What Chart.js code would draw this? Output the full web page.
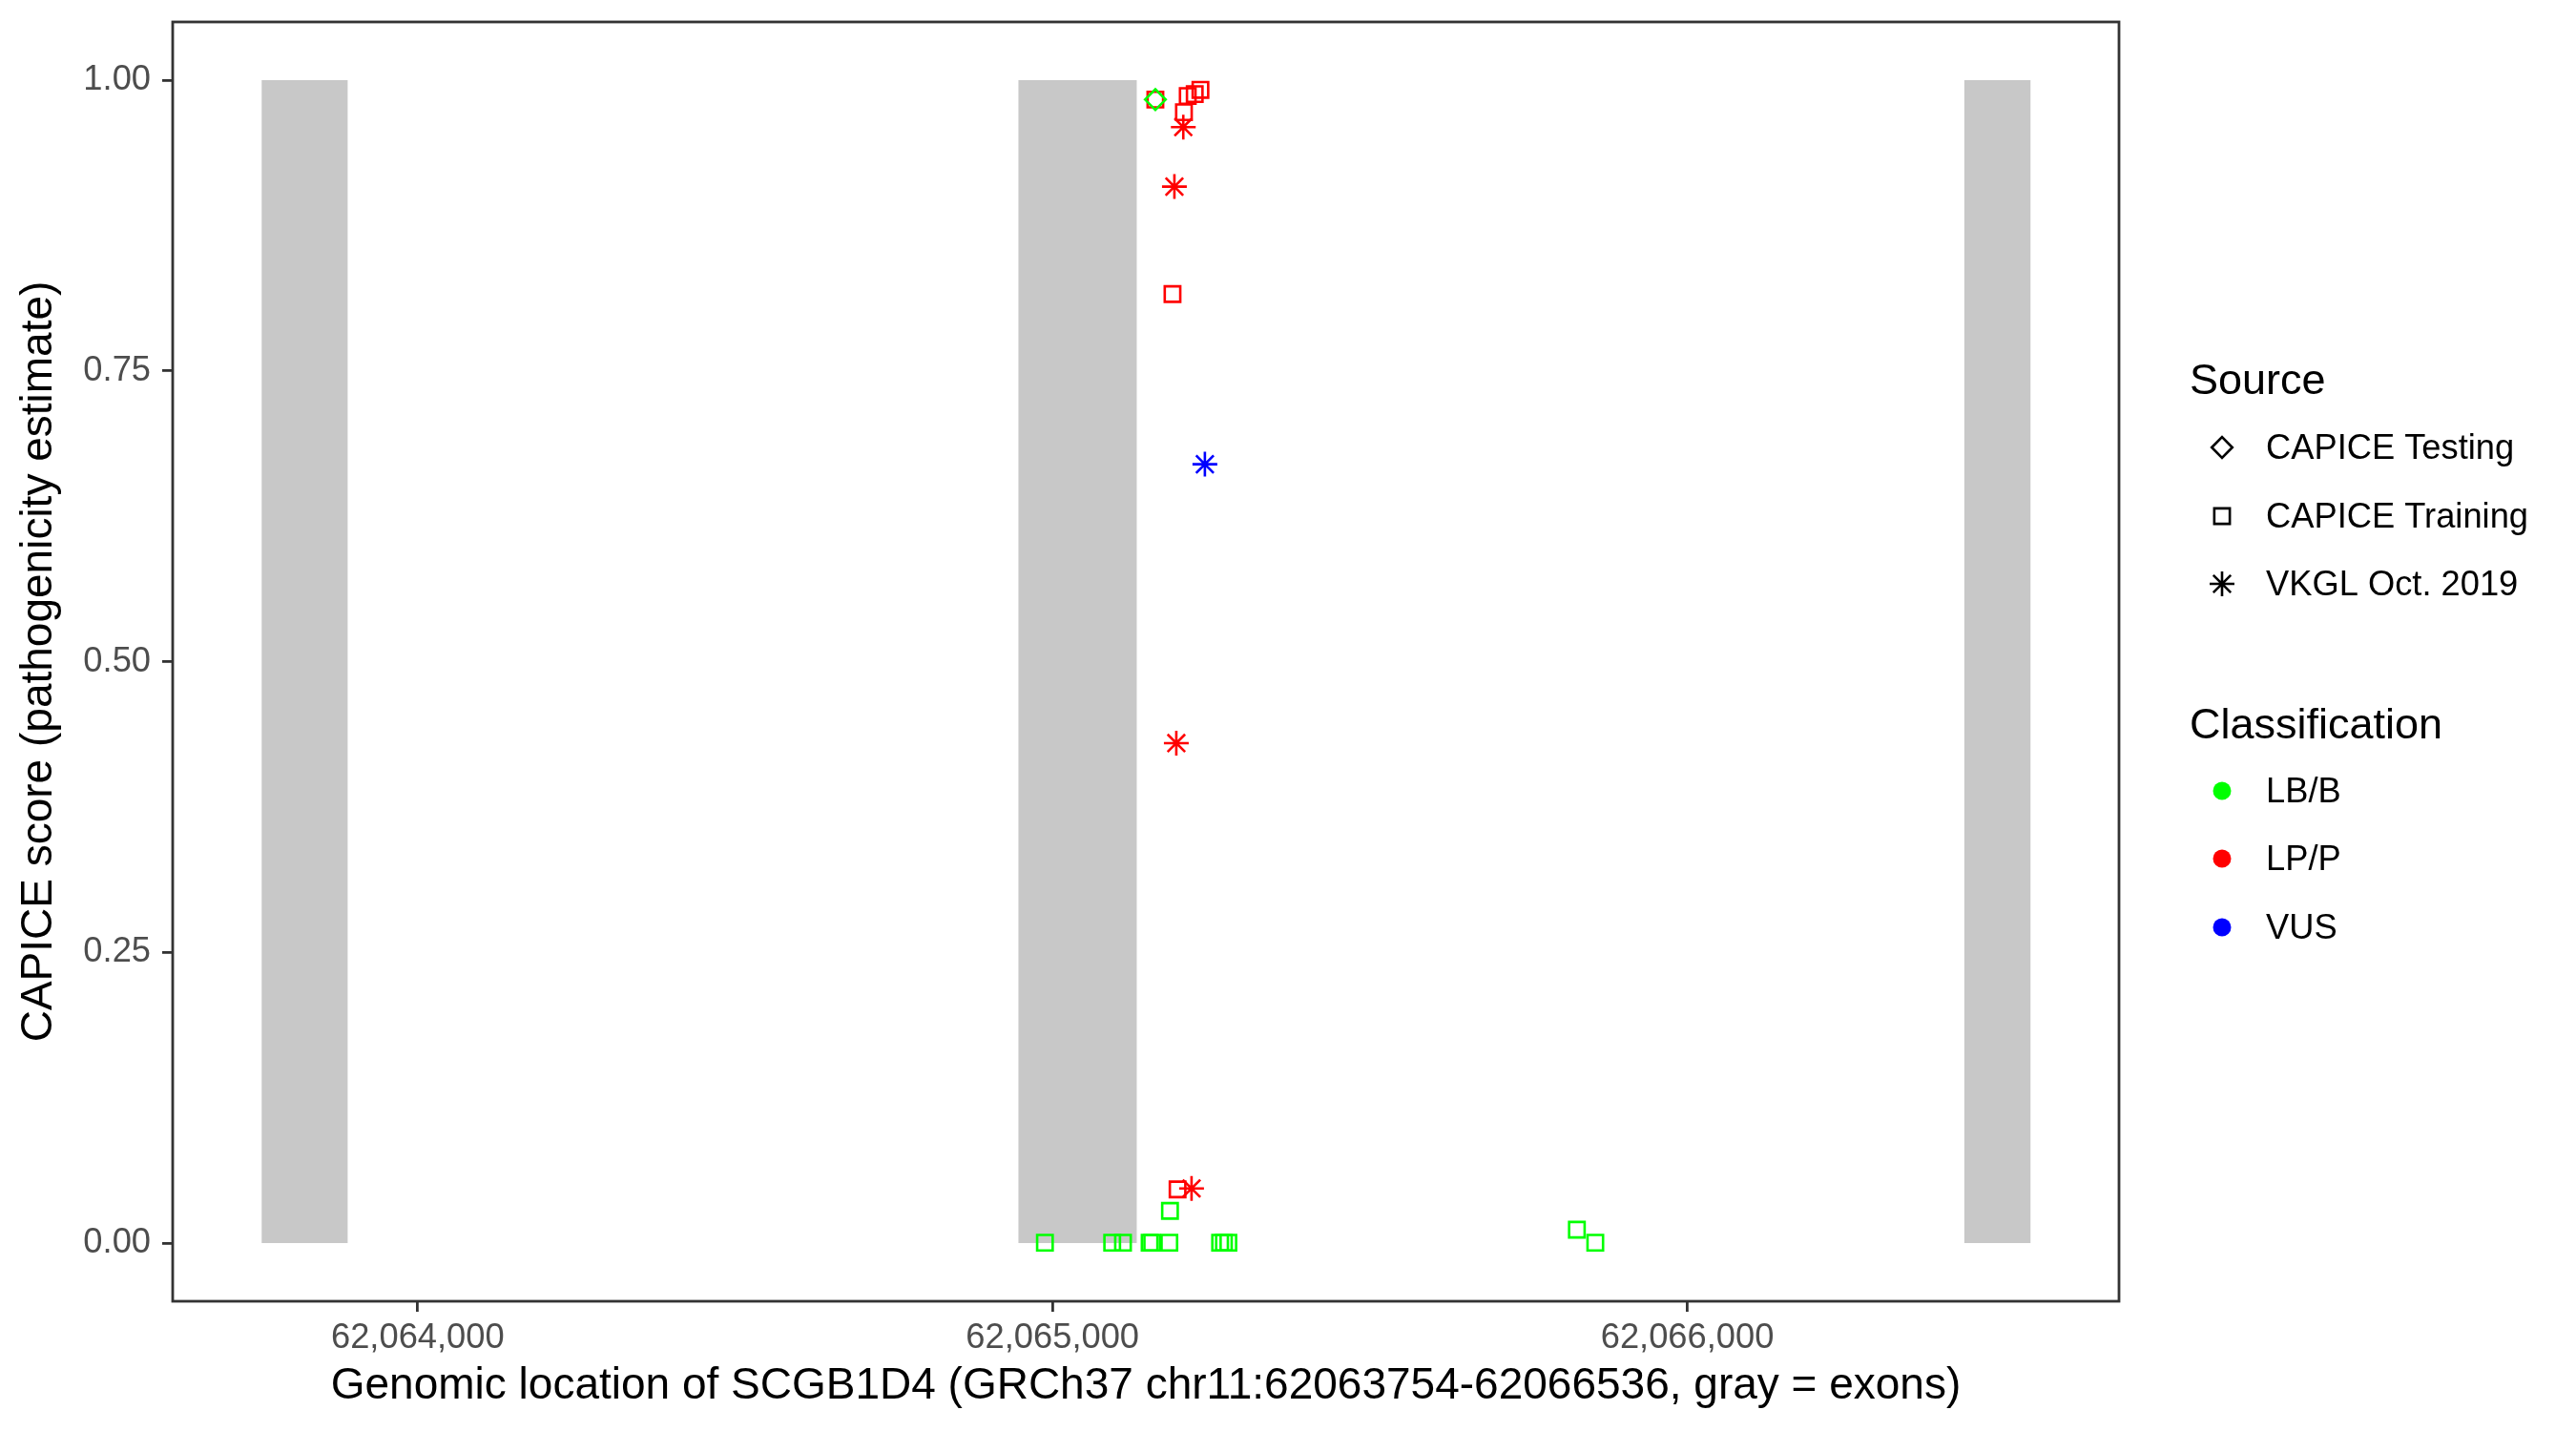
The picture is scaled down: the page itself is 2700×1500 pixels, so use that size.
<!DOCTYPE html>
<html><head><meta charset="utf-8">
<script src="https://cdn.jsdelivr.net/npm/chart.js@4.4.1/dist/chart.umd.min.js"></script>
<style>html,body{margin:0;padding:0;background:#fff;}canvas{display:block}</style>
</head><body>
<canvas id="c" width="2700" height="1500"></canvas>
<script>
// ---------- data ----------
const exonStart = [62063754, 62064946, 62066436];
const exonEnd   = [62063890, 62065133, 62066541];

const testingLBB_x = [62065162];
const testingLBB_y = [0.9833];

const trainingLPP_x = [62065162, 62065213, 62065224, 62065233, 62065207, 62065189, 62065197];
const trainingLPP_y = [0.9833, 0.9863, 0.9880, 0.9916, 0.9724, 0.8160, 0.0462];

const trainingLBB_x = [62064988, 62065094, 62065111, 62065153, 62065157, 62065184, 62065185, 62065264, 62065270, 62065277, 62065826, 62065855];
const trainingLBB_y = [0.0003, 0.0003, 0.0003, 0.0003, 0.0003, 0.0003, 0.0277, 0.0003, 0.0003, 0.0003, 0.0115, 0.0003];

const vkglLPP_x = [62065206, 62065192, 62065195, 62065219];
const vkglLPP_y = [0.9596, 0.9084, 0.4299, 0.0470];

const vkglVUS_x = [62065240];
const vkglVUS_y = [0.6697];

const xTickValues = [62064000, 62065000, 62066000];
const yTickValues = [0, 0.25, 0.5, 0.75, 1];

const sourceLabels = ['CAPICE Testing', 'CAPICE Training', 'VKGL Oct. 2019'];
const classLabels = ['LB/B', 'LP/P', 'VUS'];

const xTitle = 'Genomic location of SCGB1D4 (GRCh37 chr11:62063754-62066536, gray = exons)';
const yTitle = 'CAPICE score (pathogenicity estimate)';

// ---------- styles ----------
const FONT = "'Liberation Sans', Arial, Helvetica, sans-serif";
const GREEN = '#00FF00', RED = '#FF0000', BLUE = '#0000FF';
const EXON = '#C8C8C8';
const SQ_R = 11.5, DIA_R = 10.8, STAR_R = 13, PT_W = 2.6;

const pts = (xs, ys) => xs.map((x, i) => ({x: x, y: ys[i]}));

function pointDs(xs, ys, style, r, color) {
  return {
    type: 'scatter', data: pts(xs, ys), pointStyle: style, pointRadius: r, pointHoverRadius: r,
    borderColor: color, backgroundColor: 'rgba(0,0,0,0)', borderWidth: PT_W, pointBorderWidth: PT_W
  };
}

const datasets = [
  pointDs(testingLBB_x, testingLBB_y, 'rectRot', DIA_R, GREEN),
  pointDs(vkglVUS_x, vkglVUS_y, 'star', STAR_R, BLUE),
  pointDs(vkglLPP_x, vkglLPP_y, 'star', STAR_R, RED),
  pointDs(trainingLPP_x, trainingLPP_y, 'rect', SQ_R, RED),
  pointDs(trainingLBB_x, trainingLBB_y, 'rect', SQ_R, GREEN)
];
exonStart.forEach((s, i) => {
  datasets.push({
    type: 'line', data: [{x: s, y: 1}, {x: exonEnd[i], y: 1}],
    fill: 'origin', backgroundColor: EXON, borderWidth: 0, borderColor: 'rgba(0,0,0,0)',
    pointRadius: 0, pointHoverRadius: 0, tension: 0
  });
});

// ---------- plugins ----------
const panelBorder = {
  id: 'panelBorder',
  afterDatasetsDraw(chart) {
    const a = chart.chartArea, ctx = chart.ctx;
    ctx.save();
    ctx.strokeStyle = '#333333';
    ctx.lineWidth = 2.8;
    ctx.strokeRect(a.left, a.top, a.right - a.left, a.bottom - a.top);
    ctx.restore();
  }
};

function sym(ctx, kind, x, y) {
  ctx.save();
  ctx.strokeStyle = '#000'; ctx.fillStyle = '#000'; ctx.lineWidth = PT_W;
  ctx.beginPath();
  if (kind === 'diamond') {
    ctx.moveTo(x - DIA_R, y); ctx.lineTo(x, y - DIA_R); ctx.lineTo(x + DIA_R, y); ctx.lineTo(x, y + DIA_R); ctx.closePath(); ctx.stroke();
  } else if (kind === 'square') {
    const h = SQ_R * Math.SQRT1_2; ctx.rect(x - h, y - h, 2 * h, 2 * h); ctx.stroke();
  } else if (kind === 'star') {
    const d = STAR_R * Math.SQRT1_2;
    ctx.moveTo(x - STAR_R, y); ctx.lineTo(x + STAR_R, y);
    ctx.moveTo(x, y - STAR_R); ctx.lineTo(x, y + STAR_R);
    ctx.moveTo(x - d, y - d); ctx.lineTo(x + d, y + d);
    ctx.moveTo(x - d, y + d); ctx.lineTo(x + d, y - d);
    ctx.stroke();
  } else {
    ctx.fillStyle = kind; ctx.arc(x, y, 9.5, 0, Math.PI * 2); ctx.fill();
  }
  ctx.restore();
}

const legendPlugin = {
  id: 'ggLegend',
  afterDraw(chart) {
    const ctx = chart.ctx;
    ctx.save();
    ctx.fillStyle = '#000';
    ctx.textBaseline = 'middle';
    ctx.textAlign = 'left';
    ctx.font = '45px ' + FONT;
    ctx.fillText('Source', 2295, 401);
    ctx.fillText('Classification', 2295, 762);
    ctx.font = '36.3px ' + FONT;
    const sKinds = ['diamond', 'square', 'star'];
    const sY = [469, 541, 612];
    sourceLabels.forEach((t, i) => { sym(ctx, sKinds[i], 2329, sY[i]); ctx.fillStyle = '#000'; ctx.fillText(t, 2375, sY[i] + 2); });
    const cCols = [GREEN, RED, BLUE];
    const cY = [829, 900, 972];
    classLabels.forEach((t, i) => { sym(ctx, cCols[i], 2329, cY[i]); ctx.fillStyle = '#000'; ctx.fillText(t, 2375, cY[i] + 2); });
    ctx.restore();
  }
};

const fmt = v => String(Math.round(v)).replace(/\B(?=(\d{3})+(?!\d))/g, ',');
const noPad = s => { s.paddingTop = 0; s.paddingBottom = 0; s.paddingLeft = 0; s.paddingRight = 0; };

new Chart(document.getElementById('c'), {
  type: 'scatter',
  data: {datasets: datasets},
  options: {
    responsive: false, devicePixelRatio: 1, animation: false,
    layout: {padding: {left: 0, right: 479, top: 23, bottom: 0}},
    plugins: {legend: {display: false}, tooltip: {enabled: false}},
    scales: {
      x: {
        type: 'linear', position: 'bottom', min: 62063614, max: 62066680,
        afterBuildTicks: s => { s.ticks = xTickValues.map(v => ({value: v})); },
        afterFit: s => { s.height = 136; noPad(s); },
        ticks: {callback: v => fmt(v), color: '#4D4D4D', font: {family: FONT, size: 36.3}, padding: 6, maxRotation: 0, autoSkip: false},
        grid: {drawOnChartArea: false, drawTicks: true, tickLength: 11, color: '#333333', lineWidth: 2.8},
        border: {display: false},
        title: {display: true, text: xTitle, color: '#000', font: {family: FONT, size: 46}, padding: {top: 0, bottom: 19}}
      },
      y: {
        type: 'linear', position: 'left', min: -0.05, max: 1.05,
        afterBuildTicks: s => { s.ticks = yTickValues.map(v => ({value: v})); },
        afterFit: s => { s.width = 181; noPad(s); },
        ticks: {callback: v => v.toFixed(2), color: '#4D4D4D', font: {family: FONT, size: 36.3}, padding: 12, autoSkip: false},
        grid: {drawOnChartArea: false, drawTicks: true, tickLength: 11, color: '#333333', lineWidth: 2.8},
        border: {display: false},
        title: {display: true, text: yTitle, color: '#000', font: {family: FONT, size: 46}, padding: {top: 14, bottom: 0}}
      }
    }
  },
  plugins: [panelBorder, legendPlugin]
});
</script>
</body></html>
